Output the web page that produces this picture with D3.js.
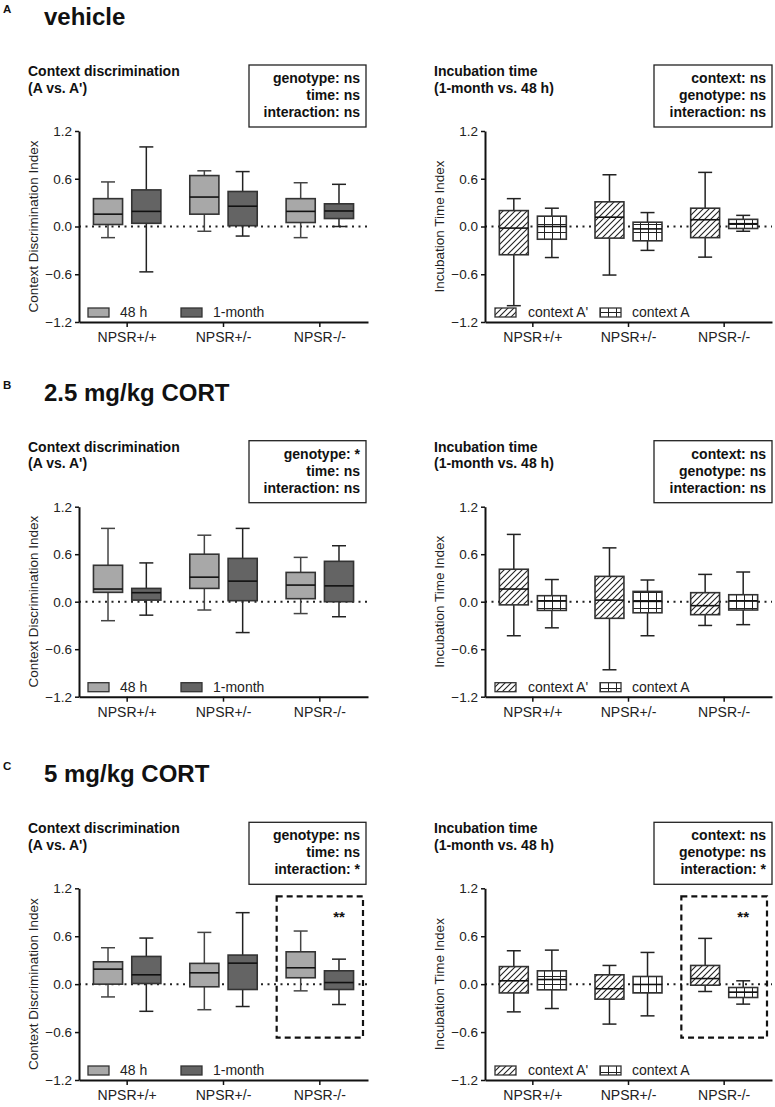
<!DOCTYPE html>
<html>
<head>
<meta charset="utf-8">
<script src="https://cdn.jsdelivr.net/npm/d3@7"></script>
<style>
  html, body { margin: 0; padding: 0; background: #fff; }
  svg { display: block; font-family: "Liberation Sans", Arial, sans-serif; }
</style>
</head>
<body>
<script>
// ---------- DATA ----------
const genotypes = ["NPSR+/+", "NPSR+/-", "NPSR-/-"];
const yTicks = [-1.2, -0.6, 0.0, 0.6, 1.2];
const cdSeries = ["48 h", "1-month"];
const itSeries = ["context A'", "context A"];

// each entry: [whisker min, Q1, median, Q3, whisker max]
// Row A: vehicle
const vehCD48h = [[-0.14, 0.025, 0.155, 0.35, 0.56], [-0.06, 0.155, 0.37, 0.64, 0.70], [-0.14, 0.05, 0.19, 0.35, 0.55]];
const vehCD1m  = [[-0.57, 0.04, 0.19, 0.46, 1.00], [-0.12, 0.01, 0.255, 0.44, 0.69], [0.00, 0.10, 0.195, 0.285, 0.53]];
const vehITAp  = [[-0.995, -0.355, -0.02, 0.20, 0.35], [-0.61, -0.146, 0.117, 0.31, 0.65], [-0.385, -0.14, 0.085, 0.23, 0.68]];
const vehITA   = [[-0.39, -0.16, 0.00, 0.13, 0.23], [-0.30, -0.18, -0.03, 0.054, 0.175], [-0.06, -0.025, 0.035, 0.09, 0.14]];
// Row B: 2.5 mg/kg CORT
const c25CD48h = [[-0.24, 0.118, 0.16, 0.46, 0.926], [-0.105, 0.168, 0.31, 0.60, 0.84], [-0.15, 0.038, 0.21, 0.37, 0.56]];
const c25CD1m  = [[-0.17, 0.02, 0.114, 0.168, 0.49], [-0.39, 0.013, 0.26, 0.547, 0.926], [-0.19, 0.00, 0.20, 0.51, 0.707]];
const c25ITAp  = [[-0.43, -0.04, 0.16, 0.41, 0.85], [-0.86, -0.21, 0.02, 0.32, 0.68], [-0.30, -0.164, -0.05, 0.114, 0.345]];
const c25ITA   = [[-0.33, -0.11, 0.008, 0.076, 0.28], [-0.43, -0.14, 0.004, 0.13, 0.274], [-0.29, -0.105, 0.008, 0.088, 0.375]];
// Row C: 5 mg/kg CORT
const c5CD48h  = [[-0.16, 0.00, 0.188, 0.28, 0.456], [-0.32, -0.033, 0.142, 0.26, 0.648], [-0.084, 0.08, 0.205, 0.405, 0.665]];
const c5CD1m   = [[-0.34, 0.008, 0.117, 0.347, 0.577], [-0.28, -0.067, 0.263, 0.364, 0.895], [-0.255, -0.067, 0.02, 0.167, 0.313]];
const c5ITAp   = [[-0.347, -0.11, 0.042, 0.22, 0.418], [-0.50, -0.188, -0.058, 0.117, 0.234], [-0.092, -0.013, 0.07, 0.234, 0.573]];
const c5ITA    = [[-0.305, -0.071, 0.058, 0.167, 0.426], [-0.397, -0.11, -0.004, 0.096, 0.397], [-0.25, -0.167, -0.10, -0.042, 0.042]];

// panel headings and statistics
const rowLetters = ["A", "B", "C"];
const rowTitles = ["vehicle", "2.5 mg/kg CORT", "5 mg/kg CORT"];
const cdTitle = ["Context discrimination", "(A vs. A')"];
const itTitle = ["Incubation time", "(1-month vs. 48 h)"];
const cdYLabel = "Context Discrimination Index";
const itYLabel = "Incubation Time Index";
const statsCD = [
  ["genotype: ns", "time: ns", "interaction: ns"],
  ["genotype: *", "time: ns", "interaction: ns"],
  ["genotype: ns", "time: ns", "interaction: *"]
];
const statsIT = [
  ["context: ns", "genotype: ns", "interaction: ns"],
  ["context: ns", "genotype: ns", "interaction: ns"],
  ["context: ns", "genotype: ns", "interaction: *"]
];
// post-hoc highlight (row C only)
const sigGenotype = "NPSR-/-";
const sigLabel = "**";
const sigRange = [1.1, -0.67];
const sigLabelValue = 0.84;

// ---------- LAYOUT ----------
const W = 775, H = 1107;
const rows = [
  { top: 131, bottom: 322 },
  { top: 506.7, bottom: 696.7 },
  { top: 888.3, bottom: 1080 }
];
const cols = [
  { x0: 79, x1: 368, ylabX: 33, titleX: 28, statsX: [249, 366], leg: [9, 41, 102, 134] },
  { x0: 485, x1: 772, ylabX: 439, titleX: 434, statsX: [654, 772], leg: [10, 43, 115, 147] }
];
const cdData = [[vehCD48h, vehCD1m], [c25CD48h, c25CD1m], [c5CD48h, c5CD1m]];
const itData = [[vehITAp, vehITA], [c25ITAp, c25ITA], [c5ITAp, c5ITA]];

const svg = d3.select("body").append("svg")
  .attr("width", W).attr("height", H)
  .style("background", "#fff");

const defs = svg.append("defs");
const hatch = defs.append("pattern").attr("id", "hatch")
  .attr("patternUnits", "userSpaceOnUse").attr("width", 6).attr("height", 6);
hatch.append("rect").attr("width", 6).attr("height", 6).attr("fill", "#fff");
hatch.append("path").attr("d", "M-1,1 L1,-1 M0,6 L6,0 M5,7 L7,5")
  .attr("stroke", "#222").attr("stroke-width", 1.1);
const grid = defs.append("pattern").attr("id", "grid")
  .attr("patternUnits", "userSpaceOnUse").attr("width", 8).attr("height", 8);
grid.append("rect").attr("width", 8).attr("height", 8).attr("fill", "#fff");
grid.append("path").attr("d", "M0,0.5 H8 M0.5,0 V8")
  .attr("stroke", "#222").attr("stroke-width", 1);

const cdFills = ["#a8a8a8", "#646464"];
const itFills = ["url(#hatch)", "url(#grid)"];

function drawPanel(g, row, col, data, seriesNames, fills, titleLines, stats, yLabel, sig) {
  const y = d3.scaleLinear().domain([-1.2, 1.2]).range([row.bottom, row.top]);
  const x = d3.scaleBand().domain(genotypes).range([col.x0, col.x1]);
  const bw = x.bandwidth();
  const xi = d3.scaleBand().domain(seriesNames).range([bw * 0.15, bw * 0.85]).paddingInner(0.24);

  // subtitle
  titleLines.forEach((t, i) => {
    g.append("text").attr("x", col.titleX).attr("y", row.top - 55 + i * 16.5)
      .attr("font-size", 14).attr("font-weight", "bold").attr("fill", "#111").text(t);
  });
  // stats box
  const sb = g.append("g");
  sb.append("rect").attr("x", col.statsX[0]).attr("y", row.top - 66)
    .attr("width", col.statsX[1] - col.statsX[0]).attr("height", 62)
    .attr("fill", "#fff").attr("stroke", "#222").attr("stroke-width", 1.3);
  stats.forEach((t, i) => {
    sb.append("text").attr("x", col.statsX[1] - 6).attr("y", row.top - 48 + i * 17)
      .attr("text-anchor", "end").attr("font-size", 14).attr("font-weight", "bold")
      .attr("fill", "#111").text(t);
  });

  // dotted zero line
  g.append("line").attr("x1", col.x0).attr("x2", col.x1)
    .attr("y1", y(0)).attr("y2", y(0))
    .attr("stroke", "#222").attr("stroke-width", 2).attr("stroke-dasharray", "2,4.5");

  // boxes
  data.forEach((serie, si) => {
    serie.forEach((d, gi) => {
      const bx = x(genotypes[gi]) + xi(seriesNames[si]);
      const w = xi.bandwidth();
      const cx = bx + w / 2;
      const bg = g.append("g");
      const wc = si === 0 && fills === cdFills ? "#444" : "#222";
      bg.append("line").attr("x1", cx).attr("x2", cx).attr("y1", y(d[0])).attr("y2", y(d[1]))
        .attr("stroke", wc).attr("stroke-width", 1.5);
      bg.append("line").attr("x1", cx).attr("x2", cx).attr("y1", y(d[3])).attr("y2", y(d[4]))
        .attr("stroke", wc).attr("stroke-width", 1.5);
      [d[0], d[4]].forEach(v => {
        bg.append("line").attr("x1", cx - 7).attr("x2", cx + 7).attr("y1", y(v)).attr("y2", y(v))
          .attr("stroke", wc).attr("stroke-width", 1.5);
      });
      bg.append("rect").attr("x", bx).attr("y", y(d[3])).attr("width", w)
        .attr("height", y(d[1]) - y(d[3]))
        .attr("fill", fills[si]).attr("stroke", "#333").attr("stroke-width", 1.6);
      bg.append("line").attr("x1", bx).attr("x2", bx + w).attr("y1", y(d[2])).attr("y2", y(d[2]))
        .attr("stroke", "#111").attr("stroke-width", 1.6);
    });
  });

  // significance highlight
  if (sig) {
    const sx0 = x(sigGenotype) + 5, sx1 = x(sigGenotype) + bw - 5;
    g.append("rect").attr("x", sx0).attr("y", y(sigRange[0]))
      .attr("width", sx1 - sx0).attr("height", y(sigRange[1]) - y(sigRange[0]))
      .attr("fill", "none").attr("stroke", "#111").attr("stroke-width", 2.2)
      .attr("stroke-dasharray", "6,4");
    g.append("text").attr("x", x(sigGenotype) + xi(seriesNames[1]) + xi.bandwidth() / 2)
      .attr("y", y(sigLabelValue) + 5).attr("text-anchor", "middle")
      .attr("font-size", 15).attr("font-weight", "bold").attr("fill", "#111").text(sigLabel);
  }

  // axes
  const yAxis = g.append("g").attr("transform", `translate(${col.x0},0)`)
    .call(d3.axisLeft(y).tickValues(yTicks).tickFormat(d3.format(".1f")).tickSize(4).tickSizeOuter(0).tickPadding(3));
  yAxis.select(".domain").attr("stroke", "#111").attr("stroke-width", 2);
  yAxis.selectAll(".tick line").attr("stroke", "#111").attr("stroke-width", 1.5);
  yAxis.selectAll(".tick text").attr("font-size", 13.5).attr("fill", "#222")
    .attr("font-family", "'Liberation Sans', Arial, sans-serif");

  const xAxis = g.append("g").attr("transform", `translate(0,${row.bottom})`)
    .call(d3.axisBottom(x).tickSize(5).tickSizeOuter(0).tickPadding(5));
  xAxis.select(".domain").attr("stroke", "#111").attr("stroke-width", 2);
  xAxis.selectAll(".tick line").attr("stroke", "#111").attr("stroke-width", 1.5);
  xAxis.selectAll(".tick text").attr("font-size", 14).attr("fill", "#222")
    .attr("font-family", "'Liberation Sans', Arial, sans-serif");

  // y label
  g.append("text")
    .attr("transform", `translate(${col.ylabX},${(row.top + row.bottom) / 2}) rotate(-90)`)
    .attr("text-anchor", "middle").attr("dy", "0.35em")
    .attr("font-size", 13.5).attr("fill", "#222").text(yLabel);

  // legend
  seriesNames.forEach((s, i) => {
    const sx = col.x0 + col.leg[i * 2];
    g.append("rect").attr("x", sx).attr("y", row.bottom - 14).attr("width", 21).attr("height", 9)
      .attr("fill", fills[i]).attr("stroke", "#333").attr("stroke-width", 1.3);
    g.append("text").attr("x", col.x0 + col.leg[i * 2 + 1]).attr("y", row.bottom - 5)
      .attr("font-size", 14).attr("fill", "#222").text(s);
  });
}

rows.forEach((row, r) => {
  const g = svg.append("g");
  g.append("text").attr("x", 3).attr("y", row.top - 118)
    .attr("font-size", 11.5).attr("font-weight", "bold").attr("fill", "#111").text(rowLetters[r]);
  g.append("text").attr("x", 44).attr("y", row.top - 106)
    .attr("font-size", 24).attr("font-weight", "bold").attr("fill", "#111").text(rowTitles[r]);
  drawPanel(g, row, cols[0], cdData[r], cdSeries, cdFills, cdTitle, statsCD[r], cdYLabel, r === 2);
  drawPanel(g, row, cols[1], itData[r], itSeries, itFills, itTitle, statsIT[r], itYLabel, r === 2);
});
</script>
</body>
</html>
